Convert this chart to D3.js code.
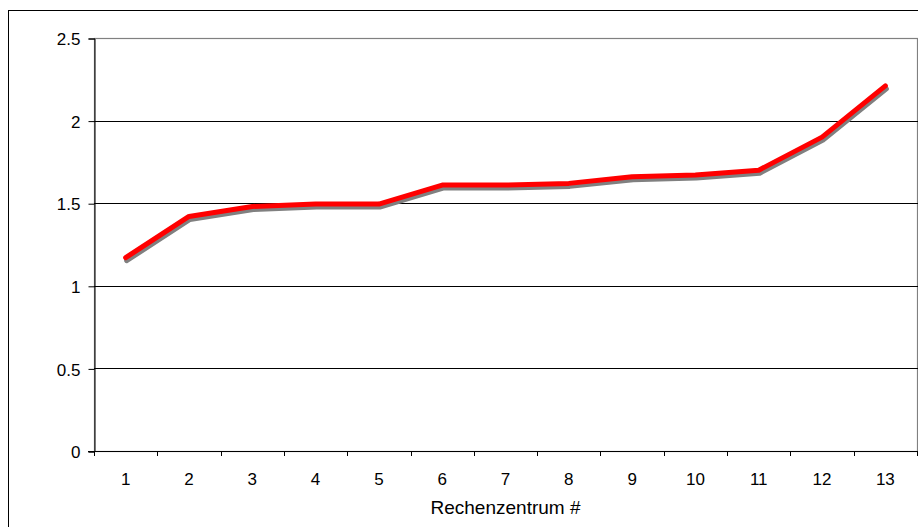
<!DOCTYPE html>
<html><head><meta charset="utf-8">
<script src="https://cdn.jsdelivr.net/npm/d3@7"></script>
<style>body{margin:0;background:#fff}svg{display:block}text{font-family:"Liberation Sans",Arial,sans-serif;}</style>
</head><body>
<script>
const categories = ["1","2","3","4","5","6","7","8","9","10","11","12","13"];
const values = [1.17, 1.42, 1.48, 1.495, 1.495, 1.61, 1.61, 1.62, 1.66, 1.67, 1.70, 1.90, 2.21];
const yTicks = [0, 0.5, 1, 1.5, 2, 2.5];
const xTitle = "Rechenzentrum #";

const W = 918, H = 527;
const svg = d3.select("body").append("svg").attr("width", W).attr("height", H);
svg.append("rect").attr("x", 8.5).attr("y", 10.5).attr("width", W).attr("height", H)
  .attr("fill", "#fff").attr("stroke", "#000").attr("stroke-width", 1);

const L = 94, R = 917, T = 38, B = 451;
const x = d3.scaleBand().domain(categories).range([L, R]);
const y = d3.scaleLinear().domain([0, 2.5]).range([B, T]);

// plot border (gray)
svg.append("rect").attr("x", L + 0.5).attr("y", T + 0.5).attr("width", R - L).attr("height", B - T)
  .attr("fill", "none").attr("stroke", "#808080").attr("stroke-width", 1.2);

// gridlines
svg.append("g").selectAll("line").data(yTicks.filter(d => d > 0 && d < 2.5)).join("line")
  .attr("x1", L).attr("x2", R + 1)
  .attr("y1", d => Math.round(y(d)) + 0.5).attr("y2", d => Math.round(y(d)) + 0.5)
  .attr("stroke", "#000").attr("stroke-width", 1);

// y axis
const yAxis = d3.axisLeft(y).tickValues(yTicks).tickSize(6).tickPadding(8).tickFormat(d => String(d));
const gy = svg.append("g").attr("transform", `translate(${L + 0.5},0.5)`).call(yAxis);
gy.attr("font-size", null).attr("font-family", null);
gy.select(".domain").attr("stroke", "#000");
gy.selectAll("text").style("font-size", "17px").attr("fill", "#000").attr("dy", "0.36em");

// x axis with ticks between categories
const xAxis = d3.axisBottom(x).tickSize(0).tickPadding(0);
const gx = svg.append("g").attr("transform", `translate(0,${B + 0.5})`).call(xAxis);
gx.attr("font-size", null).attr("font-family", null);
gx.select(".domain").remove();
gx.selectAll("text").style("font-size", "17px").attr("fill", "#000").attr("y", 33).attr("dy", null);
svg.append("line").attr("x1", L - 6).attr("x2", R + 1).attr("y1", B + 0.5).attr("y2", B + 0.5).attr("stroke", "#000");
const boundaries = categories.map(c => x(c)).concat([x(categories[categories.length - 1]) + x.bandwidth()]);
svg.append("g").selectAll("line").data(boundaries).join("line")
  .attr("x1", d => Math.round(d) + 0.5).attr("x2", d => Math.round(d) + 0.5)
  .attr("y1", B).attr("y2", B + 5).attr("stroke", "#000");

svg.append("text").attr("x", (L + R) / 2).attr("y", 514).attr("text-anchor", "middle")
  .style("font-size", "19px").attr("fill", "#000").text(xTitle);

const line = d3.line().x((d, i) => x(categories[i]) + x.bandwidth() / 2).y(d => y(d));
svg.append("path").datum(values).attr("d", line).attr("fill", "none")
  .attr("stroke", "#808080").attr("stroke-width", 5).attr("stroke-linejoin", "round").attr("stroke-linecap", "round")
  .attr("transform", "translate(1,3)");
svg.append("path").datum(values).attr("d", line).attr("fill", "none")
  .attr("stroke", "#ff0000").attr("stroke-width", 5).attr("stroke-linejoin", "round").attr("stroke-linecap", "round");
</script>
</body></html>
